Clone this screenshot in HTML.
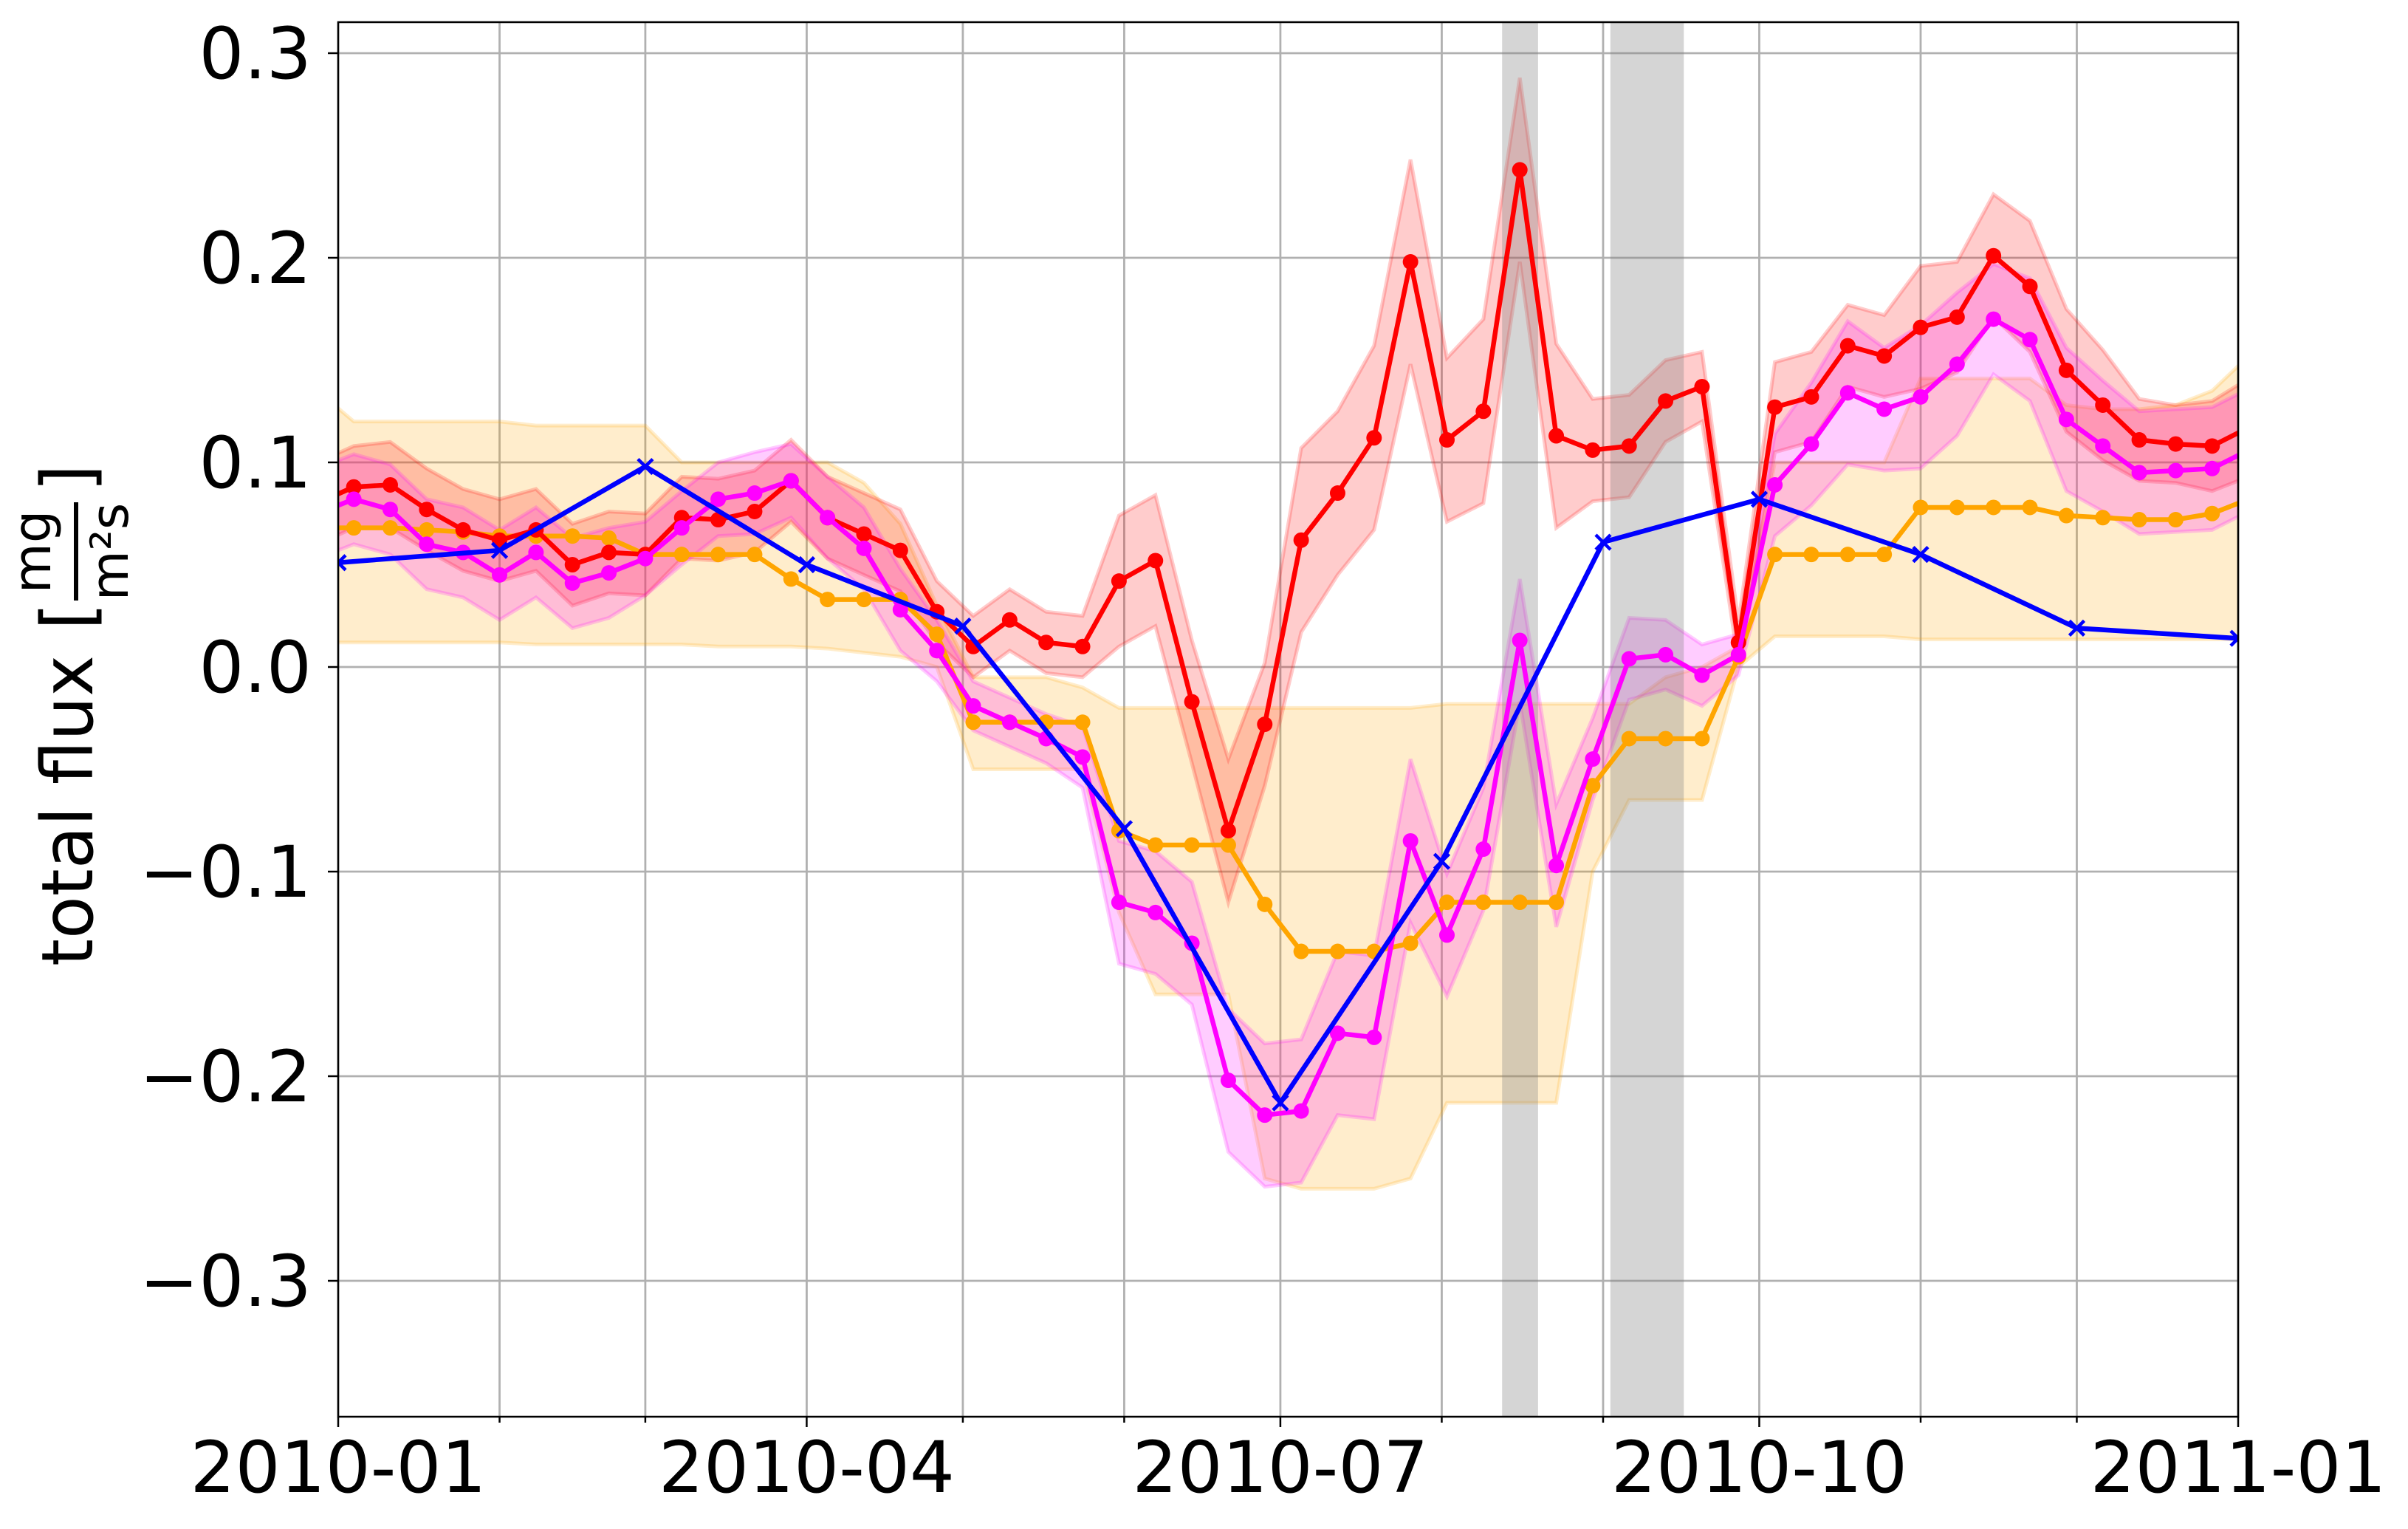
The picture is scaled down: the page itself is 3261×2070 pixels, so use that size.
<!DOCTYPE html>
<html><head><meta charset="utf-8">
<style>
html,body{margin:0;padding:0;background:#fff;}
svg{display:block;}
text{font-family:"DejaVu Sans","Liberation Sans",sans-serif;fill:#000;}
</style></head>
<body>
<svg id="chart" width="3261" height="2070" viewBox="0 0 3261 2070" xmlns="http://www.w3.org/2000/svg">
<defs><clipPath id="plotclip"><rect x="458" y="30" width="2573" height="1888"/></clipPath></defs>
<rect width="3261" height="2070" fill="#fff"/>
<g id="grid"></g>
<g id="plot" clip-path="url(#plotclip)"></g>
<rect x="458" y="30" width="2573" height="1888" fill="none" stroke="#000" stroke-width="2.5"/>
<g id="axes"></g>
<g transform="translate(125,1308) rotate(-90)">
  <text x="0" y="0" font-size="96" textLength="421" lengthAdjust="spacingAndGlyphs">total flux</text>
  <text x="455" y="0" font-size="96">[</text>
  <text x="561" y="-57" font-size="70" text-anchor="middle">mg</text>
  <line x1="495" y1="-22" x2="628" y2="-22" stroke="#000" stroke-width="6"/>
  <text x="561" y="48" font-size="70" text-anchor="middle">m²s</text>
  <text x="642" y="0" font-size="96">]</text>
</g>
</svg>
<script>
// weekly series (day-of-year of first point = -4, weekly step)
const weekStartDay = -4;
const redVals = [.080,.088,.089,.077,.067,.062,.067,.050,.056,.055,.073,.072,.076,.091,.073,.065,.057,.027,.010,.023,.012,.010,.042,.052,-.017,-.080,-.028,.062,.085,.112,.198,.111,.125,.243,.113,.106,.108,.130,.137,.012,.127,.132,.157,.152,.166,.171,.201,.186,.145,.128,.111,.109,.108,.117];
const redHalf = [.02,.02,.021,.02,.02,.02,.02,.02,.02,.02,.02,.02,.02,.02,.02,.02,.02,.015,.015,.015,.015,.015,.032,.032,.03,.035,.03,.045,.04,.045,.05,.04,.045,.045,.045,.025,.025,.02,.017,.01,.022,.022,.02,.02,.03,.027,.03,.032,.03,.027,.02,.019,.022,.024];
const magVals = [.075,.082,.077,.060,.056,.045,.056,.041,.046,.053,.068,.082,.085,.091,.073,.058,.028,.008,-.019,-.027,-.035,-.044,-.115,-.120,-.135,-.202,-.219,-.217,-.179,-.181,-.085,-.131,-.089,.013,-.097,-.045,.004,.006,-.004,.006,.089,.109,.134,.126,.132,.148,.170,.160,.121,.108,.095,.096,.097,.106];
const magHalf = [.022,.022,.022,.022,.022,.022,.022,.022,.022,.018,.018,.018,.02,.018,.02,.02,.02,.015,.012,.012,.012,.015,.03,.03,.03,.035,.035,.035,.04,.04,.04,.03,.03,.03,.03,.02,.02,.017,.015,.01,.025,.03,.035,.03,.035,.035,.027,.03,.035,.032,.03,.03,.03,.03];
const orgVals = [.068,.068,.068,.067,.066,.064,.064,.064,.063,.055,.055,.055,.055,.043,.033,.033,.033,.016,-.027,-.027,-.027,-.027,-.080,-.087,-.087,-.087,-.116,-.139,-.139,-.139,-.135,-.115,-.115,-.115,-.115,-.058,-.035,-.035,-.035,.005,.055,.055,.055,.055,.078,.078,.078,.078,.074,.073,.072,.072,.075,.082];
const orgHi = [.135,.12,.12,.12,.12,.12,.118,.118,.118,.118,.1,.1,.1,.1,.1,.09,.07,.03,-.005,-.005,-.005,-.01,-.02,-.02,-.02,-.02,-.02,-.02,-.02,-.02,-.02,-.018,-.018,-.018,-.018,-.018,-.018,-.005,.0,.01,.1,.1,.1,.1,.141,.141,.141,.141,.128,.126,.126,.128,.135,.152];
const orgLo = [.012,.012,.012,.012,.012,.012,.011,.011,.011,.011,.011,.01,.01,.01,.009,.007,.005,.0,-.05,-.05,-.05,-.05,-.12,-.16,-.16,-.16,-.25,-.255,-.255,-.255,-.25,-.213,-.213,-.213,-.213,-.1,-.065,-.065,-.065,-.0,.015,.015,.015,.015,.0135,.0135,.0135,.0135,.0135,.0135,.0135,.0135,.0135,.0135];
// monthly blue series (day-of-year)
const blueDays = [0,31,59,90,120,151,181,212,243,273,304,334,365];
const blueVals = [.051,.057,.098,.050,.020,-.079,-.213,-.095,.061,.082,.055,.019,.014];
const spanStart = [223.6,244.4];
const spanEnd = [230.5,258.5];
const yTicks = [0.3,0.2,0.1,0.0,-0.1,-0.2,-0.3];
const yTickLabels = ["0.3","0.2","0.1","0.0","\u22120.1","\u22120.2","\u22120.3"];
const monthDays = [0,31,59,90,120,151,181,212,243,273,304,334,365];
const xLabelDays = [0,90,181,273,365];
const xLabels = ["2010-01","2010-04","2010-07","2010-10","2011-01"];

const X0=458,X1=3031,Y0=30,Y1=1918;
const xs = d => X0 + d/365*(X1-X0);
const ys = v => 903 - v*2770;
const NS="http://www.w3.org/2000/svg";
function mk(tag, attrs, parent){const e=document.createElementNS(NS,tag);for(const k in attrs)e.setAttribute(k,attrs[k]);parent.appendChild(e);return e;}
const grid=document.getElementById('grid'),plot=document.getElementById('plot'),axes=document.getElementById('axes');

monthDays.forEach(d=>{const l=mk('line',{x1:xs(d),x2:xs(d),y1:Y0,y2:Y1,stroke:'#b0b0b0','stroke-width':2.8},grid);


const t=mk('line',{x1:xs(d),x2:xs(d),y1:Y1,y2:Y1+(xLabelDays.includes(d)?14:8),stroke:'#000','stroke-width':2.5},axes);

});
yTicks.forEach((v,i)=>{const l=mk('line',{x1:X0,x2:X1,y1:ys(v),y2:ys(v),stroke:'#b0b0b0','stroke-width':2.8},grid);


const t=mk('line',{x1:X0-14,x2:X0,y1:ys(v),y2:ys(v),stroke:'#000','stroke-width':2.5},axes);


const tx=mk('text',{x:X0-36,y:ys(v)+34,'font-size':96,'text-anchor':'end'},axes);tx.textContent=yTickLabels[i];

});
xLabelDays.forEach((d,i)=>{const tx=mk('text',{x:xs(d),y:2020,'font-size':96,'text-anchor':'middle'},axes);tx.textContent=xLabels[i];

});

const wx = i => xs(weekStartDay + 7*i);
function band(lo,hi,color,name){
  let p='';for(let i=0;i<lo.length;i++)p+=(i?'L':'M')+wx(i)+','+ys(hi[i]);
  for(let i=lo.length-1;i>=0;i--)p+='L'+wx(i)+','+ys(lo[i]);
  const e=mk('path',{d:p+'Z',fill:color,'fill-opacity':0.2,stroke:color,'stroke-opacity':0.2,'stroke-width':5},plot);
  
  
}
band(orgLo,orgHi,'#ffa500','orange-band');
band(redVals.map((v,i)=>v-redHalf[i]),redVals.map((v,i)=>v+redHalf[i]),'#ff0000','red-band');
band(magVals.map((v,i)=>v-magHalf[i]),magVals.map((v,i)=>v+magHalf[i]),'#ff00ff','magenta-band');
spanStart.forEach((s,i)=>{const r=mk('rect',{x:xs(s),y:Y0,width:xs(spanEnd[i])-xs(s),height:Y1-Y0,fill:'#808080','fill-opacity':0.33},plot);

});
function series(vals,color,name){
  const g=mk('g',{},plot);
  
  
  mk('polyline',{points:vals.map((v,i)=>wx(i)+','+ys(v)).join(' '),fill:'none',stroke:color,'stroke-width':6.5,'stroke-linejoin':'round'},g);
  vals.forEach((v,i)=>{const c=mk('circle',{cx:wx(i),cy:ys(v),r:10.5,fill:color},g);
  
  });
}
series(orgVals,'#ffa500','orange-series');
series(redVals,'#ff0000','red-series');
series(magVals,'#ff00ff','magenta-series');
const bg=mk('g',{},plot);


mk('polyline',{points:blueDays.map((d,i)=>xs(d)+','+ys(blueVals[i])).join(' '),fill:'none',stroke:'#0000ff','stroke-width':6.5},bg);
blueDays.forEach((d,i)=>{const x=xs(d),y=ys(blueVals[i]),s=10;
const p=mk('path',{d:`M${x-s},${y-s}L${x+s},${y+s}M${x-s},${y+s}L${x+s},${y-s}`,stroke:'#0000ff','stroke-width':4.5},bg);

});
</script>
</body></html>
